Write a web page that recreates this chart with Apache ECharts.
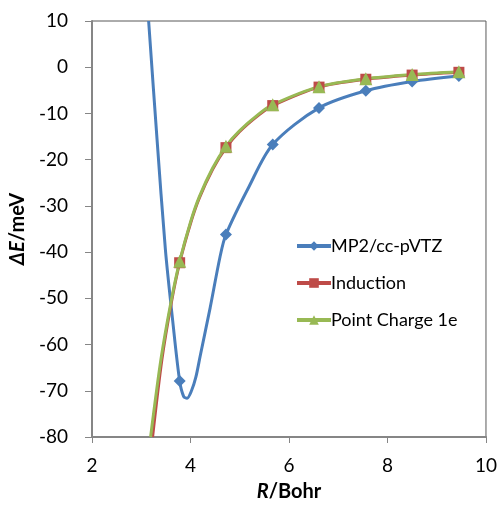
<!DOCTYPE html>
<html><head><meta charset="utf-8">
<script src="https://cdn.jsdelivr.net/npm/echarts@6/dist/echarts.min.js"></script>
<style>html,body{margin:0;padding:0;background:#fff}#c{width:500px;height:507px}</style>
</head><body><div id="c"></div>
<script>
// Measured points (R in Bohr)
var R = [3.78, 4.72, 5.67, 6.61, 7.56, 8.50, 9.45];
var mp2 = [-67.9, -36.2, -16.7, -8.8, -5.1, -3.1, -1.9];
var induction = [-42.3, -17.4, -8.3, -4.3, -2.6, -1.7, -1.1];
var pointCharge = [-42.0, -17.1, -8.1, -4.2, -2.5, -1.6, -1.0];
// Extra points along the drawn smooth curves
var mp2CurveR = [3.15, 3.32, 3.49, 3.64, 3.86, 3.93, 4.02, 4.11, 4.20, 4.40, 4.60, 5.19];
var mp2CurveE = [10, -15.5, -39.4, -55.0, -71.2, -71.6, -70.0, -67.0, -62.3, -52.0, -41.0, -25.8];
var indCurveR = [3.23, 3.42, 3.61, 4.00, 4.18, 4.45, 4.99, 5.39];
var indCurveE = [-80, -63.2, -51.0, -33.8, -28.3, -22.1, -14.0, -10.3];
var pcCurveR = [3.19, 3.40, 3.60, 4.00, 4.18, 4.45, 4.99, 5.39];
var pcCurveE = [-80, -63.2, -51.0, -33.5, -28.0, -21.8, -13.8, -10.1];
var xTicks = [2, 4, 6, 8, 10];
var yTicks = [-80, -70, -60, -50, -40, -30, -20, -10, 0, 10];

function build(mx, my, cx, cy) {
  var pts = [];
  for (var i = 0; i < mx.length; i++) pts.push({value: [mx[i], my[i]]});
  for (var j = 0; j < cx.length; j++) pts.push({value: [cx[j], cy[j]], symbol: 'none'});
  pts.sort(function (a, b) { return a.value[0] - b.value[0]; });
  return pts;
}

var font = 'Lato, "Noto Sans", sans-serif';
var chart = echarts.init(document.getElementById('c'), null, {renderer: 'canvas'});
chart.setOption({
  animation: false,
  grid: {left: 92, right: 12, top: 21, bottom: 69, show: true, borderColor: '#595959', borderWidth: 1},
  legend: {
    left: 290, top: 231, orient: 'vertical', itemWidth: 34, itemHeight: 12, itemGap: 17,
    lineStyle: {width: 4},
    textStyle: {fontFamily: font, fontSize: 18, lineHeight: 20, color: '#000', padding: [0, 0, 0, -5]},
    data: ['MP2/cc-pVTZ', 'Induction', 'Point Charge 1e']
  },
  xAxis: {
    type: 'value', min: xTicks[0], max: xTicks[xTicks.length - 1], interval: 2,
    axisLine: {onZero: false, lineStyle: {color: '#868686', width: 2}},
    axisTick: {show: true, length: 6, lineStyle: {color: '#868686', width: 1}},
    axisLabel: {fontFamily: font, fontSize: 19, color: '#000', margin: 19},
    splitLine: {show: false},
    name: '{i|R}{b|/Bohr}', nameLocation: 'middle', nameGap: 45,
    nameTextStyle: {rich: {
      i: {fontFamily: font, fontSize: 20, fontWeight: 'bold', fontStyle: 'italic', color: '#000'},
      b: {fontFamily: font, fontSize: 20, fontWeight: 'bold', color: '#000'}
    }}
  },
  yAxis: {
    type: 'value', min: yTicks[0], max: yTicks[yTicks.length - 1], interval: 10,
    axisLine: {show: true, onZero: false, lineStyle: {color: '#868686', width: 2}},
    axisTick: {show: true, length: 7, lineStyle: {color: '#868686', width: 1}},
    axisLabel: {fontFamily: font, fontSize: 19, color: '#000', margin: 24},
    splitLine: {show: false},
    name: '{i|ΔE}{b|/meV}', nameLocation: 'middle', nameGap: 56, nameRotate: 90,
    nameTextStyle: {rich: {
      i: {fontFamily: font, fontSize: 20, fontWeight: 'bold', fontStyle: 'italic', color: '#000'},
      b: {fontFamily: font, fontSize: 20, fontWeight: 'bold', color: '#000'}
    }}
  },
  series: [
    {name: 'MP2/cc-pVTZ', type: 'line', smooth: 0.3, showAllSymbol: true, clip: true,
     symbol: 'diamond', symbolSize: 12,
     itemStyle: {color: '#4a7ebb'}, lineStyle: {color: '#4a7ebb', width: 3},
     data: build(R, mp2, mp2CurveR, mp2CurveE)},
    {name: 'Induction', type: 'line', smooth: 0.3, showAllSymbol: true, clip: true,
     symbol: 'rect', symbolSize: 11,
     itemStyle: {color: '#be4b48'}, lineStyle: {color: '#be4b48', width: 3},
     data: build(R, induction, indCurveR, indCurveE)},
    {name: 'Point Charge 1e', type: 'line', smooth: 0.3, showAllSymbol: true, clip: true,
     symbol: 'triangle', symbolSize: 13,
     itemStyle: {color: '#98b954'}, lineStyle: {color: '#98b954', width: 3},
     data: build(R, pointCharge, pcCurveR, pcCurveE)}
  ]
});
</script></body></html>
